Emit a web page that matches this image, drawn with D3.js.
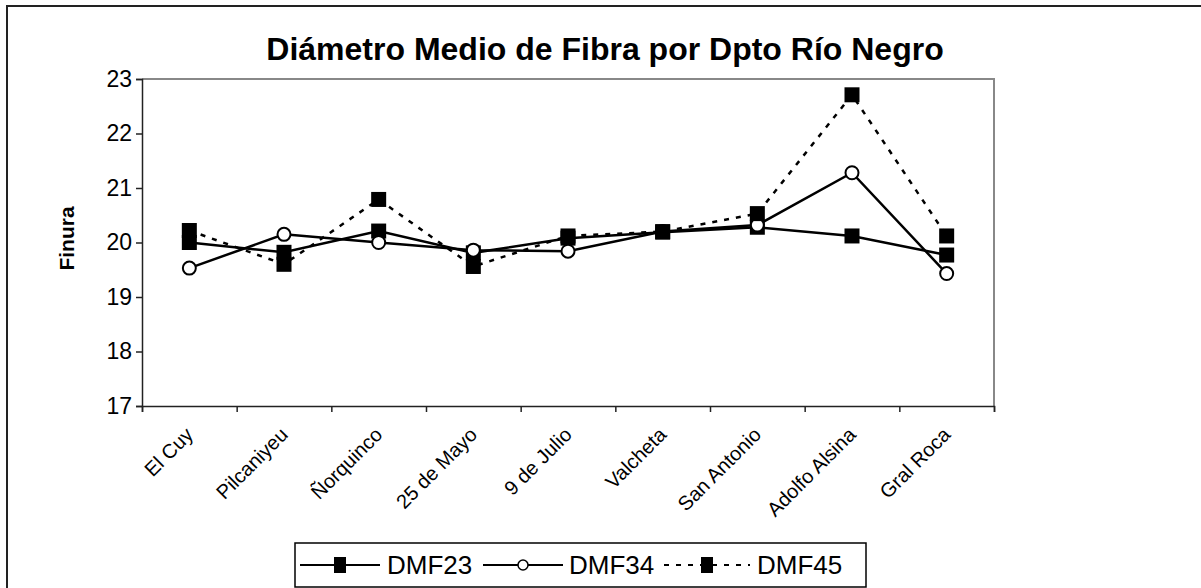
<!DOCTYPE html>
<html>
<head>
<meta charset="utf-8">
<script src="https://cdn.jsdelivr.net/npm/d3@7"></script>
<style>
    body { margin: 0; background: #fff; }
    svg { display: block; font-family: "Liberation Sans", Arial, sans-serif; }
</style>
</head>
<body>
<div id="chart"></div>
<script>
const categories = ["El Cuy", "Pilcaniyeu", "Ñorquinco", "25 de Mayo", "9 de Julio",
                    "Valcheta", "San Antonio", "Adolfo Alsina", "Gral Roca"];
const dmf23 = [20.0, 19.82, 20.21, 19.81, 20.08, 20.19, 20.28, 20.12, 19.77];
const dmf34 = [19.53, 20.15, 20.0, 19.86, 19.84, 20.2, 20.32, 21.28, 19.43];
const dmf45 = [20.22, 19.6, 20.79, 19.56, 20.12, 20.2, 20.53, 22.71, 20.12];
const yTicks = [17, 18, 19, 20, 21, 22, 23];

const width = 1201;
const height = 588;
const plotLeft = 142, plotRight = 994, plotTop = 79, plotBottom = 406;

const svg = d3.select("#chart")
              .append("svg")
              .attr("width", width)
              .attr("height", height);

// outer chart border
svg.append("rect")
   .attr("x", 7).attr("y", 6)
   .attr("width", 1210).attr("height", 600)
   .attr("fill", "none")
   .attr("stroke", "#222")
   .attr("stroke-width", 2);

svg.append("text")
   .attr("x", 605).attr("y", 60)
   .attr("text-anchor", "middle")
   .style("font-size", "32px")
   .style("font-weight", "bold")
   .text("Diámetro Medio de Fibra por Dpto Río Negro");

const x = d3.scaleBand().domain(categories).range([plotLeft, plotRight]).padding(0);
const xTick = d3.scaleLinear().domain([0, categories.length]).range([plotLeft, plotRight]);
const y = d3.scaleLinear().domain([17, 23]).range([plotBottom, plotTop]);
const cx = d => x(d) + x.bandwidth() / 2;

// plot area frame (top / right grey)
svg.append("path")
   .attr("d", `M${plotLeft},${plotTop}H${plotRight}V${plotBottom}`)
   .attr("fill", "none")
   .attr("stroke", "#888")
   .attr("stroke-width", 2);

const yAxis = svg.append("g")
   .attr("transform", `translate(${plotLeft},0)`)
   .call(d3.axisLeft(y).tickValues(yTicks).tickSize(6).tickPadding(4).tickFormat(d3.format("d")));
yAxis.selectAll("text").style("font-size", "23px").attr("fill", "#000");
yAxis.selectAll("line, path").attr("stroke", "#222").attr("stroke-width", 1.5);

const xAxis = svg.append("g")
   .attr("transform", `translate(0,${plotBottom})`)
   .call(d3.axisBottom(xTick).tickValues(d3.range(categories.length + 1)).tickSize(6).tickFormat(""));
xAxis.selectAll("line, path").attr("stroke", "#222").attr("stroke-width", 1.5);

svg.append("g").selectAll("text")
   .data(categories)
   .join("text")
   .attr("transform", d => `translate(${cx(d) + 5},${plotBottom + 30}) rotate(-45)`)
   .attr("text-anchor", "end")
   .style("font-size", "20px")
   .text(d => d);

svg.append("text")
   .attr("transform", `translate(74,${(plotTop + plotBottom) / 2 - 4}) rotate(-90)`)
   .attr("text-anchor", "middle")
   .style("font-size", "21px")
   .style("font-weight", "bold")
   .text("Finura");

const series = [
    { name: "DMF23", values: dmf23, dash: null, marker: "square" },
    { name: "DMF34", values: dmf34, dash: null, marker: "circle" },
    { name: "DMF45", values: dmf45, dash: "5,7", marker: "square" }
];

const line = d3.line()
    .x((d, i) => cx(categories[i]))
    .y(d => y(d));

function drawMarker(g, type, px, py) {
    if (type === "square") {
        g.append("rect")
         .attr("x", px - 7.5).attr("y", py - 7.5)
         .attr("width", 15).attr("height", 15)
         .attr("fill", "#000");
    } else {
        g.append("circle")
         .attr("cx", px).attr("cy", py).attr("r", 6.5)
         .attr("fill", "#fff")
         .attr("stroke", "#000")
         .attr("stroke-width", 2);
    }
}

series.forEach(s => {
    svg.append("path")
       .datum(s.values)
       .attr("d", line)
       .attr("fill", "none")
       .attr("stroke", "#000")
       .attr("stroke-width", 2.5)
       .attr("stroke-dasharray", s.dash);
});
series.forEach(s => {
    const g = svg.append("g");
    s.values.forEach((v, i) => drawMarker(g, s.marker, cx(categories[i]), y(v)));
});

// legend
const legend = svg.append("g");
legend.append("rect")
      .attr("x", 295).attr("y", 543)
      .attr("width", 571).attr("height", 44)
      .attr("fill", "#fff")
      .attr("stroke", "#000")
      .attr("stroke-width", 1.5);

const legendLine = [[300, 380], [483, 563], [664, 750]];
const legendText = [387, 569, 757];
series.forEach((s, i) => {
    const [x1, x2] = legendLine[i], ly = 565, mx = (x1 + x2) / 2;
    legend.append("line")
          .attr("x1", x1).attr("x2", x2)
          .attr("y1", ly).attr("y2", ly)
          .attr("stroke", "#000")
          .attr("stroke-width", 2)
          .attr("stroke-dasharray", s.dash);
    if (s.marker === "square") {
        legend.append("rect")
              .attr("x", mx - 6).attr("y", ly - 8)
              .attr("width", 12).attr("height", 16)
              .attr("fill", "#000");
    } else {
        legend.append("circle")
              .attr("cx", mx).attr("cy", ly).attr("r", 5)
              .attr("fill", "#fff").attr("stroke", "#000").attr("stroke-width", 1.5);
    }
    legend.append("text")
          .attr("x", legendText[i]).attr("y", ly)
          .attr("dy", "0.36em")
          .style("font-size", "26px")
          .text(s.name);
});
</script>
</body>
</html>
